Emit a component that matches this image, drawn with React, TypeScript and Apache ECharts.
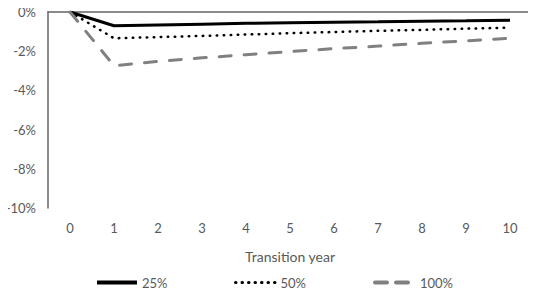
import React, { useEffect, useRef } from "react";
import * as echarts from "echarts";

const categories = ["0", "1", "2", "3", "4", "5", "6", "7", "8", "9", "10"];
const s25 = [0, -0.7, -0.66, -0.62, -0.58, -0.55, -0.52, -0.5, -0.47, -0.45, -0.42];
const s50 = [0, -1.34, -1.28, -1.22, -1.15, -1.08, -1.02, -0.96, -0.91, -0.85, -0.8];
const s100 = [0, -2.74, -2.52, -2.34, -2.18, -2.02, -1.87, -1.74, -1.6, -1.47, -1.34];
const seriesNames = ["25%", "50%", "100%"];

const FONT = "Lato, 'Open Sans', sans-serif";
const TXT = "#595959";

export default function App() {
  const ref = useRef<HTMLDivElement>(null);
  useEffect(() => {
    if (!ref.current) return;
    const chart = echarts.init(ref.current, undefined, { renderer: "svg" });
    const legendBase = {
      bottom: 6,
      itemWidth: 40,
      itemHeight: 10,
      itemGap: 5,
      itemStyle: { opacity: 0 },
      textStyle: { color: TXT, fontSize: 13, fontFamily: FONT },
    };
    chart.setOption({
      animation: false,
      textStyle: { fontFamily: FONT },
      grid: { left: 48, right: 4, top: 12, bottom: 92 },
      legend: [
        { ...legendBase, left: 90, data: [seriesNames[0]], lineStyle: { width: 4, color: "#000000" } },
        { ...legendBase, left: 229, data: [seriesNames[1]], lineStyle: { width: 3, color: "#000000", type: [0.5, 6], cap: "round" } },
        { ...legendBase, left: 368, data: [seriesNames[2]], lineStyle: { width: 4, color: "#808080", type: [12, 9], cap: "round" } },
      ],
      xAxis: [
        {
          type: "category",
          data: categories,
          position: "bottom",
          axisLine: { show: false, onZero: false },
          axisTick: { show: false },
          axisLabel: { color: TXT, fontSize: 13, margin: 13, fontFamily: FONT },
          name: "Transition year",
          nameLocation: "middle",
          nameGap: 41,
          nameTextStyle: { color: TXT, fontSize: 14, fontFamily: FONT },
        },
        {
          type: "category",
          data: categories,
          position: "top",
          axisLine: { show: true, onZero: false, lineStyle: { color: "#666666", width: 1.5 } },
          axisTick: { show: false },
          axisLabel: { show: false },
        },
      ],
      yAxis: {
        type: "value",
        min: -10,
        max: 0,
        interval: 2,
        axisLine: { show: true, lineStyle: { color: "#666666", width: 1.5 } },
        axisTick: { show: false },
        splitLine: { show: false },
        axisLabel: {
          color: TXT,
          fontSize: 13,
          margin: 12,
          fontFamily: FONT,
          formatter: (v: number) => `${v}%`,
        },
      },
      series: [
        {
          name: seriesNames[0],
          type: "line",
          data: s25,
          symbol: "none",
          lineStyle: { color: "#000000", width: 3 },
          itemStyle: { color: "#000000" },
        },
        {
          name: seriesNames[1],
          type: "line",
          data: s50,
          symbol: "none",
          lineStyle: { color: "#000000", width: 2.5, type: [0.5, 6.5], cap: "round" },
          itemStyle: { color: "#000000" },
        },
        {
          name: seriesNames[2],
          type: "line",
          data: s100,
          symbol: "none",
          lineStyle: { color: "#808080", width: 3, type: [12, 13], cap: "round" },
          itemStyle: { color: "#808080" },
        },
      ],
    });
    return () => chart.dispose();
  }, []);
  return <div ref={ref} style={{ width: 536, height: 300, margin: -8 }} />;
}
